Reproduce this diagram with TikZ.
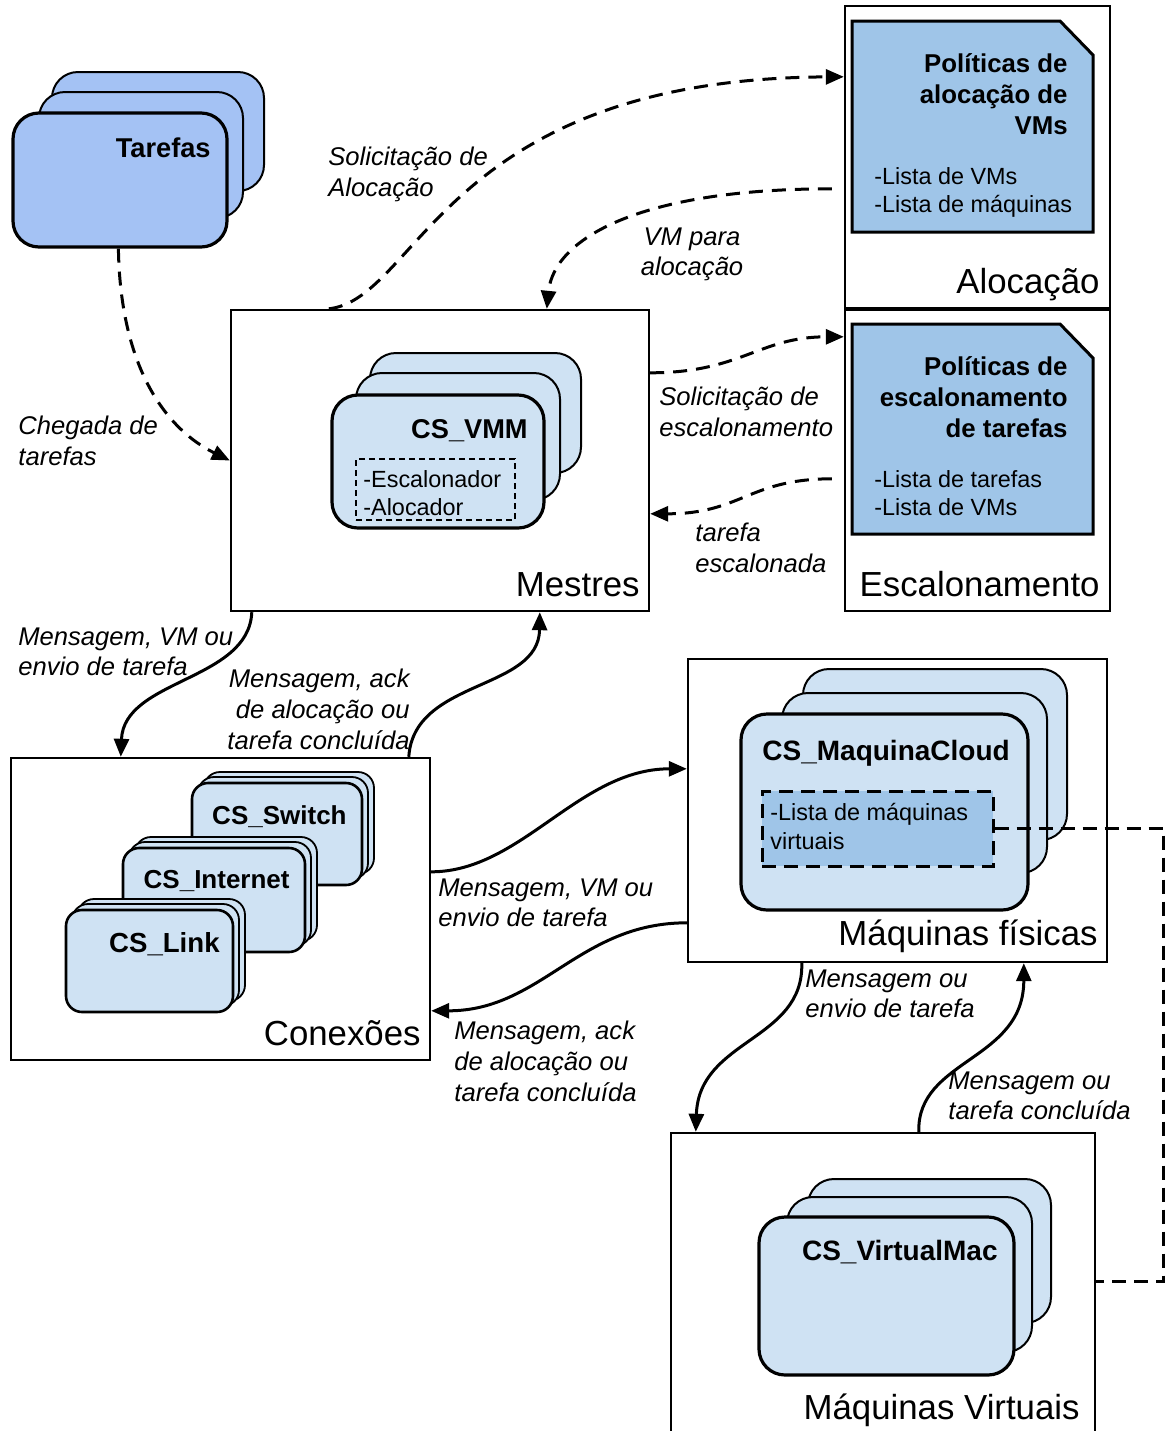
\documentclass[tikz,border=0pt]{standalone}
\usepackage{fontspec}
\setmainfont{Liberation Sans}
\usetikzlibrary{arrows.meta,calc,fit}
\definecolor{cardfill}{HTML}{CFE2F3}
\definecolor{taskfill}{HTML}{A4C2F4}
\definecolor{policyfill}{HTML}{9FC5E8}

\begin{document}
\begin{tikzpicture}[x=0.5pt,y=-0.5pt,
  frame/.style={draw, line width=1.2pt, inner sep=0pt},
  frontcard/.style={draw, line width=1.6pt, inner sep=0pt, fill=cardfill, rounded corners=13pt},
  backcard/.style={frontcard, line width=1pt},
  smallfront/.style={draw, line width=1.3pt, inner sep=0pt, fill=cardfill, rounded corners=8pt},
  smallback/.style={smallfront, line width=0.9pt},
  doc/.style={draw, line width=1.5pt, fill=policyfill},
  conn/.style={line width=1.5pt, -{Triangle[length=9pt,width=7.5pt]}},
  dconn/.style={conn, dash pattern=on 7pt off 4.5pt},
  biglabel/.style={inner sep=0pt, font=\fontsize{17.4}{20}\selectfont},
  cardtitle/.style={inner sep=0pt, font=\fontsize{13.6}{15.5}\selectfont\bfseries},
  policytitle/.style={inner sep=0pt, align=right, font=\fontsize{12.9}{15.5}\selectfont\bfseries},
  smalltitle/.style={inner sep=0pt, font=\fontsize{13}{15}\selectfont\bfseries},
  listtext/.style={inner sep=0pt, align=left, font=\fontsize{11.7}{14}\selectfont},
  edgelabel/.style={inner sep=0pt, font=\fontsize{12.8}{15.3}\selectfont\itshape}
]
\useasboundingbox (0,0) rectangle (1165,1431);

% ---------- frames ----------
\node[frame, fit={(231,310) (649,611)}] (mestres) {};
\node[frame, fit={(845,6) (1110,308)}] (aloc) {};
\node[frame, fit={(845,310) (1110,611)}] (esc) {};
\node[frame, fit={(11,758) (430,1060)}] (conex) {};
\node[frame, fit={(688,659) (1107,962)}] (mf) {};
\node[frame, fit={(671,1133) (1095,1470)}] (mv) {};

\node[biglabel, anchor=base east] (lmestres) at (640,596) {Mestres};
\node[biglabel, anchor=base east] (laloc) at (1100,293) {Alocação};
\node[biglabel, anchor=base east] (lesc) at (1100,596) {Escalonamento};
\node[biglabel, anchor=base east] (lconex) at (421,1045) {Conexões};
\node[biglabel, anchor=base east] (lmf) at (1098,945) {Máquinas físicas};
\node[biglabel, anchor=base east] (lmv) at (1080,1419) {Máquinas Virtuais};

% ---------- task stack ----------
\node[backcard, fill=taskfill, fit={(52,72) (264,191)}] (tar3) {};
\node[backcard, fill=taskfill, fit={(39,92) (243,218)}] (tar2) {};
\node[frontcard, fill=taskfill, fit={(13,113) (227,247)}] (tarefas) {};
\node[cardtitle, anchor=base east] (ttarefas) at (211,157) {Tarefas};

% ---------- CS_VMM stack ----------
\node[backcard, fit={(370,353) (581,473)}] (vmm3) {};
\node[backcard, fit={(356,373) (560,500)}] (vmm2) {};
\node[frontcard, fit={(332,395) (544,528)}] (vmm) {};
\node[cardtitle, anchor=base east] (tvmm) at (528,438) {CS\_VMM};
\node[draw, line width=0.6pt, dash pattern=on 3pt off 2pt, inner sep=0pt,
      fit={(356,459) (515,520)}] (vmmbox) {};
\node[listtext, anchor=north west] (lvmm) at (363,470) {-Escalonador\\-Alocador};

% ---------- policies ----------
\draw[doc] (852,21) -- (1060,21) -- (1093,55) -- (1093,232) -- (852,232) -- cycle;
\node[policytitle, anchor=north east] (paloc) at (1068,53)
  {Políticas de\\alocação de\\VMs};
\node[listtext, anchor=north west] (laloclist) at (874,167) {-Lista de VMs\\-Lista de máquinas};

\draw[doc] (852,324) -- (1060,324) -- (1093,358) -- (1093,534) -- (852,534) -- cycle;
\node[policytitle, anchor=north east] (pesc) at (1068,356)
  {Políticas de\\escalonamento\\de tarefas};
\node[listtext, anchor=north west] (lesclist) at (874,470) {-Lista de tarefas\\-Lista de VMs};

% ---------- connection stacks ----------
\node[smallback, fit={(204,772) (374,874)}] (sw3) {};
\node[smallback, fit={(198,777) (368,879)}] (sw2) {};
\node[smallfront, fit={(192,783) (362,885)}] (switch) {};
\node[smalltitle, anchor=base east] (tswitch) at (347,824) {CS\_Switch};

\node[smallback, fit={(135,837) (317,941)}] (in3) {};
\node[smallback, fit={(129,842) (311,946)}] (in2) {};
\node[smallfront, fit={(123,848) (305,952)}] (internet) {};
\node[smalltitle, anchor=base east] (tinternet) at (290,888) {CS\_Internet};

\node[smallback, fit={(78,899) (245,1001)}] (lk3) {};
\node[smallback, fit={(72,904) (239,1006)}] (lk2) {};
\node[smallfront, fit={(66,910) (233,1012)}] (link) {};
\node[smalltitle, anchor=base east, font=\fontsize{13.8}{15}\selectfont\bfseries] (tlink) at (220,952) {CS\_Link};

% ---------- physical machines ----------
\node[backcard, fit={(803,669) (1067,840)}] (mc3) {};
\node[backcard, fit={(782,693) (1047,873)}] (mc2) {};
\node[frontcard, fit={(741,714) (1028,910)}] (mcloud) {};
\node[cardtitle, anchor=base west, font=\fontsize{14}{15.5}\selectfont\bfseries] (tmcloud) at (762,760) {CS\_MaquinaCloud};
\node[draw, fill=policyfill, line width=1.5pt, dash pattern=on 7pt off 4pt, inner sep=0pt,
      fit={(762,791) (993,866)}] (listbox) {};
\node[listtext, anchor=north west, font=\fontsize{11.7}{14.5}\selectfont] (llistbox) at (770,803)
  {-Lista de máquinas\\virtuais};

% ---------- virtual machines ----------
\node[backcard, fit={(808,1179) (1051,1323)}] (vm3) {};
\node[backcard, fit={(787,1197) (1032,1352)}] (vm2) {};
\node[frontcard, fit={(759,1217) (1014,1375)}] (vmac) {};
\node[cardtitle, anchor=base east, font=\fontsize{14}{15.5}\selectfont\bfseries] (tvmac) at (998,1260) {CS\_VirtualMac};

% ---------- dashed request flows ----------
\draw[dconn] ($(tarefas.south west)+(107,0)$) .. controls +(2,123) and +(-61,-30) .. (mestres.west);
\draw[dconn] ($(mestres.north west)+(99,0)$) .. controls +(90,-10) and +(-400,2) .. ($(aloc.north west)+(0,72)$);
\draw[dconn] ($(aloc.north west)+(-12,184)$) .. controls +(-193,0) and +(7,-70) .. ($(mestres.north west)+(317,0)$);
\draw[dconn] ($(mestres.north east)+(0,64)$) .. controls +(91,0) and +(-85,0) .. ($(esc.north west)+(0,28)$);
\draw[dconn] ($(esc.north west)+(-12,170)$) .. controls +(-83,0) and +(91,0) .. ($(mestres.north east)+(0,205)$);

% ---------- message flows ----------
\draw[conn] ($(mestres.south west)+(22,0)$) .. controls +(-3,69) and +(3,-78) .. ($(conex.north west)+(111,0)$);
\draw[conn] ($(conex.north west)+(399,0)$) .. controls +(5,-78) and +(-1,79) .. ($(mestres.south west)+(310,0)$);
\draw[conn] ($(conex.north east)+(0,115)$) .. controls +(90,0) and +(-108,0) .. ($(mf.north west)+(0,111)$);
\draw[conn] ($(mf.north west)+(0,265)$) .. controls +(-108,0) and +(110,0) .. ($(conex.north east)+(0,254)$);
\draw[conn] ($(mf.south west)+(115,0)$) .. controls +(2,78) and +(3,-93) .. ($(mv.north west)+(26,0)$);
\draw[conn] ($(mv.north west)+(249,0)$) .. controls +(-2,-73) and +(0,98) .. ($(mf.south west)+(337,0)$);

% list of virtual machines linked to the VM frame
\draw[line width=1.5pt, dash pattern=on 7pt off 4pt]
  (listbox.east) -- ++(169,0) |- ($(mv.north east)+(0,150)$);

% ---------- flow labels ----------
\node[edgelabel, align=left, anchor=north west] (e1) at (328,147) {Solicitação de\\Alocação};
\node[edgelabel, align=center, anchor=north] (e2) at (692,227) {VM para\\alocação};
\node[edgelabel, align=left, anchor=north west] (e3) at (18,416) {Chegada de\\tarefas};
\node[edgelabel, align=left, anchor=north west] (e4) at (659,387) {Solicitação de\\escalonamento};
\node[edgelabel, align=left, anchor=north west] (e5) at (695,523) {tarefa\\escalonada};
\node[edgelabel, align=left, anchor=north west] (e6) at (18,627) {Mensagem, VM ou\\envio de tarefa};
\node[edgelabel, align=right, anchor=north east] (e7) at (410,669) {Mensagem, ack\\de alocação ou\\tarefa concluída};
\node[edgelabel, align=left, anchor=north west] (e8) at (438,878) {Mensagem, VM ou\\envio de tarefa};
\node[edgelabel, align=left, anchor=north west] (e9) at (454,1021) {Mensagem, ack\\de alocação ou\\tarefa concluída};
\node[edgelabel, align=left, anchor=north west] (e10) at (805,969) {Mensagem ou\\envio de tarefa};
\node[edgelabel, align=left, anchor=north west] (e11) at (948,1071) {Mensagem ou\\tarefa concluída};
\end{tikzpicture}
\end{document}
